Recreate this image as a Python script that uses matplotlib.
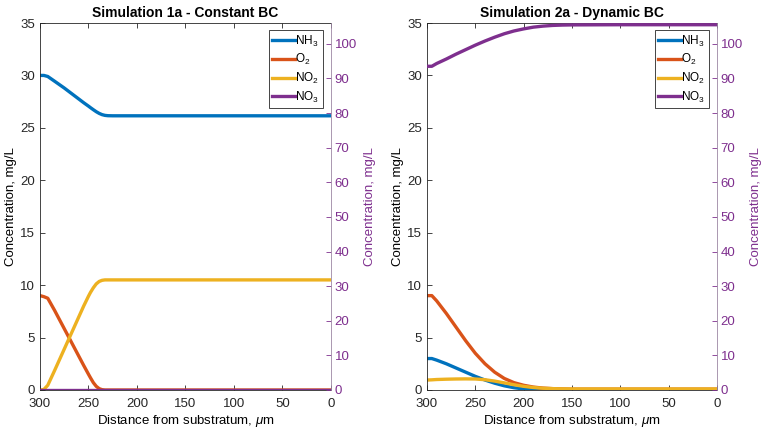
import numpy as np
import matplotlib
matplotlib.use("Agg")
import matplotlib.pyplot as plt

plt.rcParams['font.family'] = ['Liberation Sans', 'DejaVu Sans']
plt.rcParams['mathtext.fontset'] = 'custom'
plt.rcParams['mathtext.rm'] = 'Liberation Sans'
plt.rcParams['mathtext.it'] = 'Liberation Sans:italic'

# Simulation 1a - constant BC
x1 = [300, 296, 292, 285, 275, 265, 255, 250, 248, 245, 242, 239, 236, 233, 230, 225, 200, 150, 100, 50, 0]
nh3_1 = [30.0, 30.0, 29.9, 29.45, 28.8, 28.1, 27.4, 27.07, 26.93, 26.73, 26.54, 26.38, 26.26, 26.19, 26.16,
         26.15, 26.15, 26.15, 26.15, 26.15, 26.15]
o2_1 = [9.0, 8.9, 8.75, 7.6, 5.85, 4.1, 2.35, 1.5, 1.17, 0.7, 0.35, 0.13, 0.03, 0.0, 0.0,
        0.0, 0.0, 0.0, 0.0, 0.0, 0.0]
no2_1 = [0.0, 0.05, 0.45, 1.85, 3.9, 5.95, 8.0, 8.95, 9.3, 9.75, 10.12, 10.35, 10.46, 10.5, 10.5,
         10.5, 10.5, 10.5, 10.5, 10.5, 10.5]
no3_1 = [0.0] * len(x1)

# Simulation 2a - dynamic BC
x2 = [300, 295, 290, 280, 270, 260, 250, 240, 230, 220, 210, 200, 190, 180, 170, 160, 150, 100, 50, 0]
nh3_2 = [3.0, 3.0, 2.85, 2.5, 2.1, 1.7, 1.3, 0.95, 0.65, 0.4, 0.22, 0.1, 0.04, 0.01, 0, 0, 0, 0, 0, 0]
o2_2 = [9.0, 9.0, 8.5, 7.3, 6.0, 4.7, 3.5, 2.5, 1.7, 1.1, 0.7, 0.45, 0.28, 0.18, 0.13, 0.1, 0.08, 0.08, 0.08, 0.08]
no2_2 = [0.95, 0.97, 1.0, 1.03, 1.05, 1.06, 1.05, 0.98, 0.85, 0.68, 0.5, 0.35, 0.24, 0.17, 0.13, 0.11, 0.1, 0.1, 0.1, 0.1]
no3_2 = [93.5, 93.5, 94.3, 95.6, 97.0, 98.3, 99.6, 100.8, 101.9, 102.9, 103.7, 104.3, 104.8, 105.1, 105.3, 105.4,
         105.45, 105.5, 105.5, 105.5]

labels = ['NH$_3$', 'O$_2$', 'NO$_2$', 'NO$_3$']
colors = ['#0072BD', '#D95319', '#EDB120', '#7E2F8E']
dark = '#262626'
purple = '#7E2F8E'

fig = plt.figure(figsize=(7.65, 4.37), dpi=100)
positions = [[40/765, 47/437, 291/765, 367/437], [427/765, 47/437, 290/765, 367/437]]
panels = [
    ('Simulation 1a - Constant BC', x1, nh3_1, o2_1, no2_1, no3_1),
    ('Simulation 2a - Dynamic BC', x2, nh3_2, o2_2, no2_2, no3_2),
]

for pos, (title, x, nh3, o2, no2, no3) in zip(positions, panels):
    ax = fig.add_axes(pos)
    ax2 = ax.twinx()
    lw = 2.4
    h1, = ax.plot(x, nh3, color=colors[0], lw=lw)
    h2, = ax.plot(x, o2, color=colors[1], lw=lw)
    h3, = ax.plot(x, no2, color=colors[2], lw=lw)
    h4, = ax2.plot(x, no3, color=colors[3], lw=lw)

    ax.set_xlim(300, 0)
    ax.set_ylim(0, 35)
    ax2.set_ylim(0, 106)
    ax.set_xticks(np.arange(300, -1, -50))
    ax.set_yticks(np.arange(0, 36, 5))
    ax2.set_yticks(np.arange(0, 101, 10))

    ax.tick_params(axis='both', direction='in', length=3.5, width=0.6, colors=dark,
                   labelsize=9.5, top=True, right=False)
    ax.tick_params(axis='x', pad=6)
    ax2.tick_params(axis='y', direction='in', length=3.5, width=0.6, colors=purple,
                    labelsize=9.5, pad=2.5)
    for s in ['left', 'bottom', 'top']:
        ax.spines[s].set_color(dark)
        ax.spines[s].set_linewidth(0.6)
    ax.spines['right'].set_visible(False)
    for s in ['left', 'bottom', 'top']:
        ax2.spines[s].set_visible(False)
    ax2.spines['right'].set_color('#9c87a3')
    ax2.spines['right'].set_linewidth(0.6)

    ax.set_title(title, fontsize=10, fontweight='bold', pad=4)
    ax.set_xlabel(r'Distance from substratum, $\mathit{\mu}$m', fontsize=9.5, labelpad=2)
    ax.set_ylabel('Concentration, mg/L', fontsize=9.5, labelpad=2, color='black')
    ax2.set_ylabel('Concentration, mg/L', fontsize=9.5, labelpad=5, color=purple,
                   rotation=90)

    leg = ax2.legend([h1, h2, h3, h4], labels, loc='upper right',
                     bbox_to_anchor=(0.972, 0.981), borderaxespad=0,
                     fontsize=8.5, handlelength=1.9, handletextpad=0.05,
                     labelspacing=0.3, borderpad=0.3, fancybox=False,
                     framealpha=1, edgecolor=dark)
    leg.get_frame().set_linewidth(0.6)

fig.savefig('out.png', dpi=100)
